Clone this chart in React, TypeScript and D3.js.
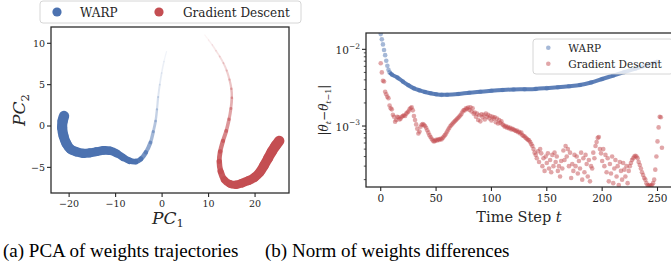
import React from 'react';
import * as d3 from 'd3';

// PCA trajectories (ordered from first to last iterate)
const warpPC1 = [0.95, 0.4, -0.1, -0.5, -0.85, -1.1, -1.4, -1.9, -2.5, -3.5, -4.6, -5.7, -7.0, -8.4, -9.8, -11.2, -12.6, -14.1, -15.6, -17.0, -18.5, -19.7, -20.6, -21.2, -21.5, -21.4, -21.1];
const warpPC2 = [9.0, 7.8, 6.4, 5.0, 3.5, 2.0, 0.6, -0.7, -2.0, -3.2, -4.0, -4.3, -4.2, -3.8, -3.3, -3.0, -2.95, -3.1, -3.25, -3.3, -3.1, -2.8, -2.1, -1.2, -0.2, 0.6, 1.2];
const gdPC1 = [9.2, 10.0, 10.8, 11.6, 12.4, 13.2, 13.9, 14.5, 14.9, 15.0, 14.8, 14.4, 13.8, 13.1, 12.5, 12.3, 12.6, 13.4, 14.6, 15.9, 17.2, 18.6, 19.9, 21.0, 21.9, 22.8, 23.6, 24.4, 25.2];
const gdPC2 = [11.0, 10.4, 9.8, 9.1, 8.4, 7.6, 6.7, 5.6, 4.5, 3.4, 2.1, 0.8, -0.6, -1.8, -3.1, -4.3, -5.5, -6.5, -7.0, -7.1, -6.9, -6.6, -6.2, -5.6, -4.8, -3.9, -3.1, -2.4, -1.8];

const pcXTicks = [-20, -10, 0, 10, 20];
const pcYTicks = [-5, 0, 5, 10];

// weight difference norms, in units of 1e-3
const NORM_UNIT = 1e-3;
const warpSteps = [0, 1, 2, 3, 4, 5, 6, 7, 8, 10, 15, 20, 25, 30, 35, 40, 45, 50, 55, 60, 70, 80, 90, 100, 110, 120, 130, 140, 150, 160, 170, 180, 190, 200, 210, 220, 230, 240, 250];
const warpNorm = [15.8, 13.5, 11.6, 9.8, 8.4, 7.1, 6.1, 5.4, 5.0, 4.7, 4.3, 3.8, 3.4, 3.1, 2.92, 2.78, 2.67, 2.6, 2.55, 2.56, 2.62, 2.72, 2.8, 2.88, 2.95, 3.0, 3.02, 3.05, 3.12, 3.2, 3.3, 3.43, 3.7, 4.1, 4.55, 5.05, 5.6, 6.2, 6.9];
const gdNorm = [
  6.6, 5.0, 3.9, 3.8, 2.8, 2.6, 2.4, 2.3, 1.85, 1.7,
  1.65, 1.4, 1.32, 1.14, 1.2, 1.32, 1.3, 1.22, 1.25, 1.32,
  1.35, 1.38, 1.35, 1.45, 1.5, 1.55, 1.65, 1.72, 1.75, 1.6,
  1.35, 1.2, 1.05, 0.92, 0.8, 0.85, 0.98, 1.04, 1.06, 1.04,
  1.0, 0.95, 0.88, 0.82, 0.76, 0.72, 0.68, 0.65, 0.63, 0.64,
  0.66, 0.65, 0.67, 0.66, 0.68, 0.67, 0.7, 0.73, 0.76, 0.8,
  0.85, 0.9, 0.95, 1.0, 1.04, 1.08, 1.12, 1.16, 1.2, 1.24,
  1.28, 1.33, 1.38, 1.45, 1.55, 1.62, 1.6, 1.7, 1.68, 1.74,
  1.62, 1.76, 1.55, 1.7, 1.45, 1.5, 1.32, 1.45, 1.2, 1.38,
  1.15, 1.42, 1.3, 1.4, 1.22, 1.45, 1.32, 1.4, 1.26, 1.35,
  1.18, 1.32, 1.25, 1.3, 1.12, 1.25, 1.08, 1.2, 1.1, 1.15,
  1.05, 1.02, 0.98, 1.0, 0.95, 0.97, 0.93, 0.95, 0.9, 0.92,
  0.9, 0.88, 0.86, 0.87, 0.83, 0.84, 0.8, 0.82, 0.76, 0.74,
  0.73, 0.7, 0.68, 0.66, 0.65, 0.62, 0.58, 0.55, 0.5, 0.45,
  0.42, 0.38, 0.47, 0.34, 0.5, 0.44, 0.3, 0.38, 0.26, 0.4,
  0.33, 0.44, 0.28, 0.36, 0.25, 0.42, 0.3, 0.45, 0.34, 0.4,
  0.26, 0.3, 0.22, 0.35, 0.28, 0.48, 0.36, 0.55, 0.4, 0.5,
  0.3, 0.45, 0.21, 0.32, 0.26, 0.42, 0.3, 0.4, 0.24, 0.35,
  0.28, 0.45, 0.2, 0.38, 0.25, 0.42, 0.32, 0.22, 0.36, 0.19,
  0.3, 0.28, 0.45, 0.38, 0.55, 0.62, 0.7, 0.72, 0.5, 0.44,
  0.35, 0.5, 0.3, 0.42, 0.25, 0.38, 0.19, 0.32, 0.24, 0.4,
  0.18, 0.28, 0.36, 0.22, 0.3, 0.17, 0.34, 0.26, 0.2, 0.33,
  0.27, 0.22, 0.3, 0.18, 0.26, 0.3, 0.33, 0.36, 0.38, 0.4,
  0.41, 0.4, 0.38, 0.34, 0.31, 0.28, 0.25, 0.23, 0.21, 0.2,
  0.18, 0.17, 0.165, 0.17, 0.165, 0.17, 0.18, 0.2, 0.27, 0.4,
  0.63, 0.96, 1.32, 1.3, 0.52,
];
const stepTicks = [0, 50, 100, 150, 200, 250];
const normMajorTicks = [-3, -2];

const BLUE = '#4c72b0';
const RED = '#c44e52';
const INK = '#262626';
const SERIF = '"DejaVu Serif", serif';
const TIMES = '"Liberation Serif", "Times New Roman", Times, serif';

type Pt = [number, number];

// one cubic piece of a Catmull-Rom curve, so each piece can get its own width/alpha
const piece = (pts: Pt[], i: number) => {
  const n = pts.length;
  const p0 = pts[Math.max(i - 1, 0)], p1 = pts[i], p2 = pts[i + 1], p3 = pts[Math.min(i + 2, n - 1)];
  const c1 = [p1[0] + (p2[0] - p0[0]) / 6, p1[1] + (p2[1] - p0[1]) / 6];
  const c2 = [p2[0] - (p3[0] - p1[0]) / 6, p2[1] - (p3[1] - p1[1]) / 6];
  return `M${p1[0]},${p1[1]}C${c1[0]},${c1[1]} ${c2[0]},${c2[1]} ${p2[0]},${p2[1]}`;
};

const Trajectory = ({ pts, color, alpha, width }: { pts: Pt[]; color: string; alpha: d3.ScaleLinear<number, number>; width: d3.ScaleLinear<number, number> }) => (
  <g>
    {pts.slice(0, -1).map((_, i) => (
      <path key={i} d={piece(pts, i)} fill="none" stroke={color}
        strokeOpacity={alpha(i + 0.5)} strokeWidth={width(i + 0.5)} strokeLinecap="round" />
    ))}
  </g>
);

const PcaPanel = () => {
  const left = 51, right = 289, top = 27, bottom = 193;
  const x = d3.scaleLinear().domain([-23.9, 27.3]).range([left, right]);
  const y = d3.scaleLinear().domain([-8.1, 11.97]).range([bottom, top]);
  const warp: Pt[] = warpPC1.map((v, i) => [x(v), y(warpPC2[i])]);
  const gd: Pt[] = gdPC1.map((v, i) => [x(v), y(gdPC2[i])]);
  const fmt = (v: number) => (v < 0 ? '\u2212' + Math.abs(v) : String(v));

  return (
    <g>
      <Trajectory pts={warp} color={BLUE}
        alpha={d3.scaleLinear().domain([0, 4, 8, 11]).range([0.06, 0.2, 0.55, 1]).clamp(true)}
        width={d3.scaleLinear().domain([0, 6, 11, 15, 26]).range([1.2, 2.5, 5.5, 8.5, 10.5]).clamp(true)} />
      <Trajectory pts={gd} color={RED}
        alpha={d3.scaleLinear().domain([0, 6, 11, 15, 18]).range([0.04, 0.25, 0.55, 0.9, 1]).clamp(true)}
        width={d3.scaleLinear().domain([0, 9, 15, 19, 28]).range([1.2, 2.5, 5, 8.5, 10.5]).clamp(true)} />
      <rect x={left} y={top} width={right - left} height={bottom - top} fill="none" stroke={INK} strokeWidth={1.25} />
      {pcXTicks.map(t => (
        <g key={t} transform={`translate(${x(t)},${bottom})`}>
          <line y2={4} stroke={INK} strokeWidth={1.1} />
          <text y={13.5} textAnchor="middle" fontSize={9.5} fill={INK} fontFamily={SERIF}>{fmt(t)}</text>
        </g>
      ))}
      {pcYTicks.map(t => (
        <g key={t} transform={`translate(${left},${y(t)})`}>
          <line x2={-4} stroke={INK} strokeWidth={1.1} />
          <text x={-6} dy="0.34em" textAnchor="end" fontSize={9.5} fill={INK} fontFamily={SERIF}>{fmt(t)}</text>
        </g>
      ))}
      <text x={(left + right) / 2 - 2} y={224} textAnchor="middle" fontSize={17} fontStyle="italic" fill={INK} fontFamily={SERIF}>
        PC<tspan fontStyle="normal" fontSize={11.5} dy={3}>1</tspan>
      </text>
      <text transform={`translate(25,${(top + bottom) / 2}) rotate(-90)`} textAnchor="middle" fontSize={17} fontStyle="italic" fill={INK} fontFamily={SERIF}>
        PC<tspan fontStyle="normal" fontSize={11.5} dy={3.5}>2</tspan>
      </text>
      {/* legend */}
      <rect x={40} y={1} width={261} height={22} rx={3} fill="white" fillOpacity={0.8} stroke="#cccccc" strokeWidth={0.8} />
      <circle cx={57} cy={12} r={4.6} fill={BLUE} />
      <text x={80} y={16.5} fontSize={12} fill={INK} fontFamily={SERIF}>WARP</text>
      <circle cx={159} cy={12} r={4.6} fill={RED} />
      <text x={183} y={16.5} fontSize={12} fill={INK} fontFamily={SERIF}>Gradient Descent</text>
    </g>
  );
};

const NormPanel = () => {
  const left = 366, right = 676, top = 33, bottom = 187;
  const x = d3.scaleLinear().domain([-13.3, 266.7]).range([left, right]);
  const y = d3.scaleLog().domain([Math.pow(10, -3.795), Math.pow(10, -1.787)]).range([bottom, top]);
  const warpPts = warpSteps.map((t, i) => ({ t, v: warpNorm[i] * NORM_UNIT }));
  const gdPts = gdNorm.map((v, t) => ({ t, v: v * NORM_UNIT }));
  const band = d3.line<{ t: number; v: number }>().x(d => x(d.t)).y(d => y(d.v)).curve(d3.curveMonotoneX);
  const minorTicks = [2, 3, 4, 5, 6, 7, 8, 9].flatMap(m => [m * 1e-4, m * 1e-3])
    .filter(v => y(v) >= top && y(v) <= bottom);

  return (
    <g>
      <defs>
        <clipPath id="normClip"><rect x={left} y={top} width={right - left} height={bottom - top} /></clipPath>
      </defs>
      <g clipPath="url(#normClip)">
        <path d={band(warpPts.filter(d => d.t >= 8)) ?? ''} fill="none" stroke={BLUE} strokeWidth={4} strokeOpacity={0.9} />
        {warpPts.map(d => (
          <circle key={'w' + d.t} cx={x(d.t)} cy={y(d.v)} r={2.3} fill={BLUE} fillOpacity={0.5} />
        ))}
        {gdPts.map(d => (
          <circle key={'g' + d.t} cx={x(d.t)} cy={y(d.v)} r={2.3} fill={RED} fillOpacity={0.5} />
        ))}
      </g>
      <rect x={left} y={top} width={right - left} height={bottom - top} fill="none" stroke={INK} strokeWidth={1.25} />
      {stepTicks.map(t => (
        <g key={t} transform={`translate(${x(t)},${bottom})`}>
          <line y2={4} stroke={INK} strokeWidth={1.1} />
          <text y={15} textAnchor="middle" fontSize={10.5} fill={INK} fontFamily={SERIF}>{t}</text>
        </g>
      ))}
      {normMajorTicks.map(e => (
        <g key={e} transform={`translate(${left},${y(Math.pow(10, e))})`}>
          <line x2={-4} stroke={INK} strokeWidth={1.1} />
          <text x={-6} dy="0.45em" textAnchor="end" fontSize={10.5} fill={INK} fontFamily={SERIF}>
            10<tspan fontSize={7.5} dy={-5.5}>{'\u2212' + Math.abs(e)}</tspan>
          </text>
        </g>
      ))}
      {minorTicks.map(v => (
        <line key={v} x1={left} x2={left - 2.2} y1={y(v)} y2={y(v)} stroke={INK} strokeWidth={0.8} />
      ))}
      <text x={(left + right) / 2 - 2} y={222} textAnchor="middle" fontSize={14.5} fill={INK} fontFamily={SERIF}>
        Time Step <tspan fontStyle="italic">t</tspan>
      </text>
      <text transform={`translate(328,${(top + bottom) / 2}) rotate(-90)`} textAnchor="middle" fontSize={12} fill={INK} fontFamily={SERIF}>
        |<tspan fontStyle="italic">θ</tspan><tspan fontStyle="italic" fontSize={8} dy={3}>t</tspan>
        <tspan dy={-3}>{'\u2212'}</tspan><tspan fontStyle="italic">θ</tspan>
        <tspan fontStyle="italic" fontSize={8} dy={3}>t</tspan><tspan fontSize={8}>{'\u2212'}1</tspan><tspan dy={-3}>|</tspan>
      </text>
      {/* legend */}
      <rect x={533} y={39} width={140} height={35} rx={3} fill="white" fillOpacity={0.8} stroke="#cccccc" strokeWidth={0.8} />
      <circle cx={548.3} cy={47.7} r={2.3} fill={BLUE} fillOpacity={0.5} />
      <text x={568.3} y={51.5} fontSize={10.5} fill={INK} fontFamily={SERIF}>WARP</text>
      <circle cx={548.3} cy={63.7} r={2.3} fill={RED} fillOpacity={0.5} />
      <text x={568.3} y={67.5} fontSize={10.5} fill={INK} fontFamily={SERIF}>Gradient Descent</text>
    </g>
  );
};

export default function App() {
  return (
    <svg width={671} height={269} style={{ position: 'absolute', left: 0, top: 0, background: 'white' }}>
      <PcaPanel />
      <NormPanel />
      <text x={3} y={256.5} fontSize={19} fill="black" fontFamily={TIMES}>(a) PCA of weights trajectories</text>
      <text x={265} y={256.5} fontSize={19} fill="black" fontFamily={TIMES}>(b) Norm of weights differences</text>
    </svg>
  );
}
